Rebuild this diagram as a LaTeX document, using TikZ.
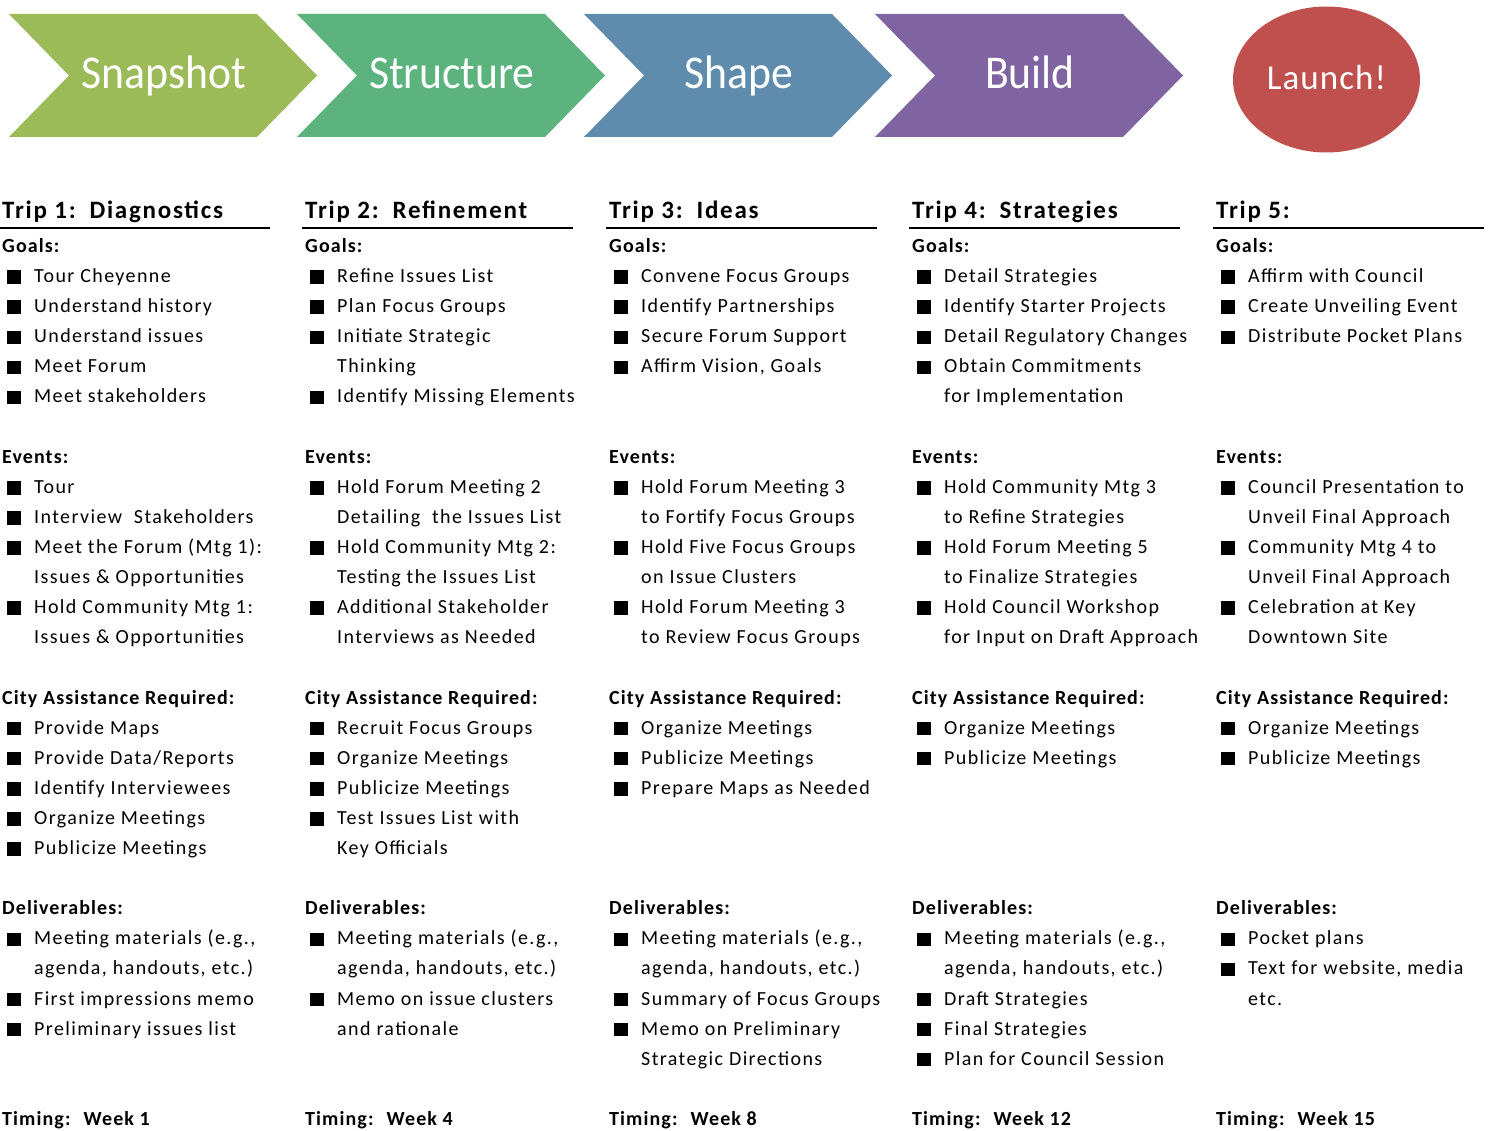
\documentclass[tikz,border=0pt]{standalone}
\usepackage{fontspec}
\setmainfont{Carlito}
\newfontfamily\bodyf{Carlito}[LetterSpace=7]
\newfontfamily\labf{Carlito}[LetterSpace=5.5]
\newfontfamily\headf{Carlito}[LetterSpace=7]
\newfontfamily\chevf{Carlito}[FakeStretch=0.93]
\newfontfamily\launchf{Carlito}[LetterSpace=3]
\usetikzlibrary{shapes.geometric}

\definecolor{cSnap}{RGB}{155,187,89}
\definecolor{cStruct}{RGB}{92,179,125}
\definecolor{cShape}{RGB}{95,140,173}
\definecolor{cBuild}{RGB}{128,100,162}
\definecolor{cLaunch}{RGB}{192,80,77}

% bulleted item: name, column x, line number, text
\newcommand\bitem[4]{%
  \node[bsq] (#1m) at ({#2+12},{252.5+30.1*#3-5.5}) {};
  \node[btxt] (#1) at ({#2+32},{252.5+30.1*#3}) {#4};}
% continuation line of a bulleted item
\newcommand\citem[4]{%
  \node[btxt] (#1) at ({#2+32},{252.5+30.1*#3}) {#4};}
% bold section label
\newcommand\slabel[4]{%
  \node[blab] (#1) at ({#2},{252.5+30.1*#3}) {#4};}
% trip heading with its rule
\newcommand\triphead[3]{%
  \node[head] (#1) at ({#2},219) {#3};
  \draw[rule] ({#2-3},228) -- ({#2+268},228);}
% gap after the trip number
\newcommand\hgap{\hspace{4pt} }
% chevron: name, left x, colour, label
\newcommand\chev[4]{%
  \fill[#3] (#2,14) -- ({#2+248},14) -- ({#2+308},75.5) -- ({#2+248},137)
    -- (#2,137) -- ({#2+60},75.5) -- cycle;
  \node[chevtxt] (#1) at ({#2+155},89) {#4};}

\begin{document}
\begin{tikzpicture}[x=1pt,y=-1pt,
  bsq/.style={fill=black,inner sep=0pt,minimum width=13.5pt,minimum height=13.5pt},
  btxt/.style={anchor=base west,inner sep=0pt,font=\bodyf\fontsize{20}{24}\selectfont},
  blab/.style={anchor=base west,inner sep=0pt,font=\labf\fontsize{20}{24}\selectfont\bfseries},
  head/.style={anchor=base west,inner sep=0pt,font=\headf\fontsize{25}{30}\selectfont\bfseries},
  rule/.style={line width=2pt},
  chevtxt/.style={anchor=base,inner sep=0pt,text=white,font=\chevf\fontsize{47}{50}\selectfont}]
\useasboundingbox (0,0) rectangle (1492,1131);

% phase chevrons
\chev{snap}{9}{cSnap}{Snapshot}
\chev{struct}{297}{cStruct}{Structure}
\chev{shape}{584}{cShape}{Shape}
\chev{build}{875}{cBuild}{Build}
\node[ellipse,fill=cLaunch,minimum width=187pt,minimum height=146pt,inner sep=0pt] (launch) at (1326.5,79.5) {};
\node[anchor=base,inner sep=0pt,text=white,font=\launchf\fontsize{35}{40}\selectfont] (launchtxt) at (1326.5,90) {Launch!};

% ---- Trip 1
\def\cx{2}
\triphead{t1}{\cx}{Trip 1:\hgap Diagnostics}
\slabel{t1g}{\cx}{0}{Goals:}
\bitem{t1ga}{\cx}{1}{Tour Cheyenne}
\bitem{t1gb}{\cx}{2}{Understand history}
\bitem{t1gc}{\cx}{3}{Understand issues}
\bitem{t1gd}{\cx}{4}{Meet Forum}
\bitem{t1ge}{\cx}{5}{Meet stakeholders}
\slabel{t1e}{\cx}{7}{Events:}
\bitem{t1ea}{\cx}{8}{Tour}
\bitem{t1eb}{\cx}{9}{Interview~ Stakeholders}
\bitem{t1ec}{\cx}{10}{Meet the Forum (Mtg 1):}
\citem{t1ed}{\cx}{11}{Issues \& Opportunities}
\bitem{t1ee}{\cx}{12}{Hold Community Mtg 1:}
\citem{t1ef}{\cx}{13}{Issues \& Opportunities}
\slabel{t1c}{\cx}{15}{City Assistance Required:}
\bitem{t1ca}{\cx}{16}{Provide Maps}
\bitem{t1cb}{\cx}{17}{Provide Data/Reports}
\bitem{t1cc}{\cx}{18}{Identify Interviewees}
\bitem{t1cd}{\cx}{19}{Organize Meetings}
\bitem{t1ce}{\cx}{20}{Publicize Meetings}
\slabel{t1d}{\cx}{22}{Deliverables:}
\bitem{t1da}{\cx}{23}{Meeting materials (e.g.,}
\citem{t1db}{\cx}{24}{agenda, handouts, etc.)}
\bitem{t1dc}{\cx}{25}{First impressions memo}
\bitem{t1dd}{\cx}{26}{Preliminary issues list}
\slabel{t1t}{\cx}{29}{Timing:~ Week 1}

% ---- Trip 2
\def\cx{305}
\triphead{t2}{\cx}{Trip 2:\hgap Refinement}
\slabel{t2g}{\cx}{0}{Goals:}
\bitem{t2ga}{\cx}{1}{Refine Issues List}
\bitem{t2gb}{\cx}{2}{Plan Focus Groups}
\bitem{t2gc}{\cx}{3}{Initiate Strategic}
\citem{t2gd}{\cx}{4}{Thinking}
\bitem{t2ge}{\cx}{5}{Identify Missing Elements}
\slabel{t2e}{\cx}{7}{Events:}
\bitem{t2ea}{\cx}{8}{Hold Forum Meeting 2}
\citem{t2eb}{\cx}{9}{Detailing~ the Issues List}
\bitem{t2ec}{\cx}{10}{Hold Community Mtg 2:}
\citem{t2ed}{\cx}{11}{Testing the Issues List}
\bitem{t2ee}{\cx}{12}{Additional Stakeholder}
\citem{t2ef}{\cx}{13}{Interviews as Needed}
\slabel{t2c}{\cx}{15}{City Assistance Required:}
\bitem{t2ca}{\cx}{16}{Recruit Focus Groups}
\bitem{t2cb}{\cx}{17}{Organize Meetings}
\bitem{t2cc}{\cx}{18}{Publicize Meetings}
\bitem{t2cd}{\cx}{19}{Test Issues List with}
\citem{t2ce}{\cx}{20}{Key Officials}
\slabel{t2d}{\cx}{22}{Deliverables:}
\bitem{t2da}{\cx}{23}{Meeting materials (e.g.,}
\citem{t2db}{\cx}{24}{agenda, handouts, etc.)}
\bitem{t2dc}{\cx}{25}{Memo on issue clusters}
\citem{t2dd}{\cx}{26}{and rationale}
\slabel{t2t}{\cx}{29}{Timing:~ Week 4}

% ---- Trip 3
\def\cx{609}
\triphead{t3}{\cx}{Trip 3:\hgap Ideas}
\slabel{t3g}{\cx}{0}{Goals:}
\bitem{t3ga}{\cx}{1}{Convene Focus Groups}
\bitem{t3gb}{\cx}{2}{Identify Partnerships}
\bitem{t3gc}{\cx}{3}{Secure Forum Support}
\bitem{t3gd}{\cx}{4}{Affirm Vision, Goals}
\slabel{t3e}{\cx}{7}{Events:}
\bitem{t3ea}{\cx}{8}{Hold Forum Meeting 3}
\citem{t3eb}{\cx}{9}{to Fortify Focus Groups}
\bitem{t3ec}{\cx}{10}{Hold Five Focus Groups}
\citem{t3ed}{\cx}{11}{on Issue Clusters}
\bitem{t3ee}{\cx}{12}{Hold Forum Meeting 3}
\citem{t3ef}{\cx}{13}{to Review Focus Groups}
\slabel{t3c}{\cx}{15}{City Assistance Required:}
\bitem{t3ca}{\cx}{16}{Organize Meetings}
\bitem{t3cb}{\cx}{17}{Publicize Meetings}
\bitem{t3cc}{\cx}{18}{Prepare Maps as Needed}
\slabel{t3d}{\cx}{22}{Deliverables:}
\bitem{t3da}{\cx}{23}{Meeting materials (e.g.,}
\citem{t3db}{\cx}{24}{agenda, handouts, etc.)}
\bitem{t3dc}{\cx}{25}{Summary of Focus Groups}
\bitem{t3dd}{\cx}{26}{Memo on Preliminary}
\citem{t3de}{\cx}{27}{Strategic Directions}
\slabel{t3t}{\cx}{29}{Timing:~ Week 8}

% ---- Trip 4
\def\cx{912}
\triphead{t4}{\cx}{Trip 4:\hgap Strategies}
\slabel{t4g}{\cx}{0}{Goals:}
\bitem{t4ga}{\cx}{1}{Detail Strategies}
\bitem{t4gb}{\cx}{2}{Identify Starter Projects}
\bitem{t4gc}{\cx}{3}{Detail Regulatory Changes}
\bitem{t4gd}{\cx}{4}{Obtain Commitments}
\citem{t4ge}{\cx}{5}{for Implementation}
\slabel{t4e}{\cx}{7}{Events:}
\bitem{t4ea}{\cx}{8}{Hold Community Mtg 3}
\citem{t4eb}{\cx}{9}{to Refine Strategies}
\bitem{t4ec}{\cx}{10}{Hold Forum Meeting 5}
\citem{t4ed}{\cx}{11}{to Finalize Strategies}
\bitem{t4ee}{\cx}{12}{Hold Council Workshop}
\citem{t4ef}{\cx}{13}{for Input on Draft Approach}
\slabel{t4c}{\cx}{15}{City Assistance Required:}
\bitem{t4ca}{\cx}{16}{Organize Meetings}
\bitem{t4cb}{\cx}{17}{Publicize Meetings}
\slabel{t4d}{\cx}{22}{Deliverables:}
\bitem{t4da}{\cx}{23}{Meeting materials (e.g.,}
\citem{t4db}{\cx}{24}{agenda, handouts, etc.)}
\bitem{t4dc}{\cx}{25}{Draft Strategies}
\bitem{t4dd}{\cx}{26}{Final Strategies}
\bitem{t4de}{\cx}{27}{Plan for Council Session}
\slabel{t4t}{\cx}{29}{Timing:~ Week 12}

% ---- Trip 5
\def\cx{1216}
\triphead{t5}{\cx}{Trip 5:}
\slabel{t5g}{\cx}{0}{Goals:}
\bitem{t5ga}{\cx}{1}{Affirm with Council}
\bitem{t5gb}{\cx}{2}{Create Unveiling Event}
\bitem{t5gc}{\cx}{3}{Distribute Pocket Plans}
\slabel{t5e}{\cx}{7}{Events:}
\bitem{t5ea}{\cx}{8}{Council Presentation to}
\citem{t5eb}{\cx}{9}{Unveil Final Approach}
\bitem{t5ec}{\cx}{10}{Community Mtg 4 to}
\citem{t5ed}{\cx}{11}{Unveil Final Approach}
\bitem{t5ee}{\cx}{12}{Celebration at Key}
\citem{t5ef}{\cx}{13}{Downtown Site}
\slabel{t5c}{\cx}{15}{City Assistance Required:}
\bitem{t5ca}{\cx}{16}{Organize Meetings}
\bitem{t5cb}{\cx}{17}{Publicize Meetings}
\slabel{t5d}{\cx}{22}{Deliverables:}
\bitem{t5da}{\cx}{23}{Pocket plans}
\bitem{t5db}{\cx}{24}{Text for website, media}
\citem{t5dc}{\cx}{25}{etc.}
\slabel{t5t}{\cx}{29}{Timing:~ Week 15}
\end{tikzpicture}
\end{document}
